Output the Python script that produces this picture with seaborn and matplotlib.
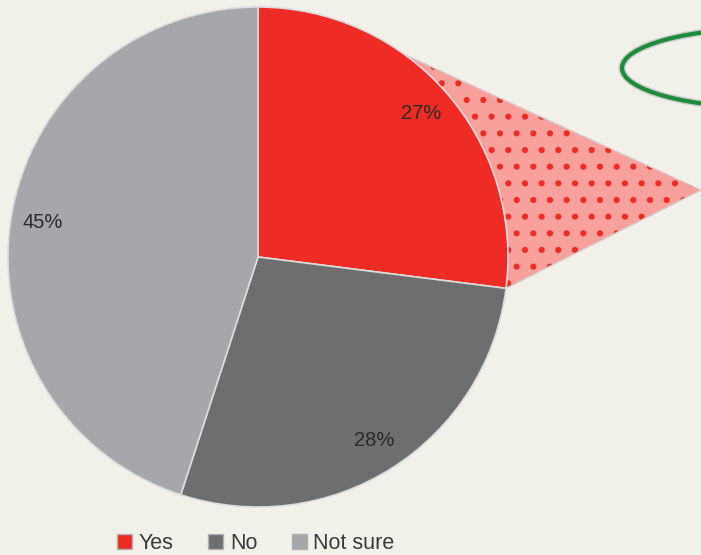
import matplotlib.pyplot as plt
import matplotlib.patches as mpatches
import matplotlib.patheffects as pe
import seaborn as sns
import numpy as np

sns.set_theme(style='white')
plt.rcParams['font.family'] = ['Liberation Sans', 'DejaVu Sans']
plt.rcParams['hatch.linewidth'] = 2.0

# data
labels = ['Yes', 'No', 'Not sure']
shares = [27, 28, 45]
colors = ['#ee2c25', '#6d6e70', '#a6a7ab']
bg = '#f2f1e9'

fig = plt.figure(figsize=(7.01, 5.55), dpi=100, facecolor=bg)
ax = fig.add_axes([0, 0, 1, 1])
ax.set_facecolor(bg)

cx, cy, r = 258, 298, 250
wedges, texts, autotexts = ax.pie(
    shares, colors=colors, startangle=90, counterclock=False,
    center=(cx, cy), radius=r, autopct='%d%%', pctdistance=0.87,
    wedgeprops=dict(edgecolor='#dcdcdc', linewidth=1.2),
    textprops=dict(fontsize=14.5, color='#2a2a2a'))
for w in wedges:
    w.set_zorder(3)
for t in autotexts:
    t.set_zorder(4)

# exploded callout from the "Yes" slice
a_low = np.deg2rad(wedges[0].theta1)
a_up = np.deg2rad(54)
apex = (701, 365)
tri = [(cx, cy), (cx + r * np.cos(a_up), cy + r * np.sin(a_up)), apex,
       (cx + r * np.cos(a_low), cy + r * np.sin(a_low))]
ax.add_patch(mpatches.Polygon(tri, closed=True, facecolor='#f7a09c',
                              edgecolor='#ee2c25', linewidth=0, hatch='.', zorder=1))
ax.add_patch(mpatches.Polygon(tri, closed=True, fill=False,
                              edgecolor='#d9c9c9', linewidth=1.0, zorder=2))

# green ellipse (cut off at the right edge)
ell = mpatches.Ellipse((770, 487), 296, 80, fill=False, edgecolor='#1d8c3a', linewidth=3,
                       zorder=2)
ell.set_path_effects([pe.Stroke(linewidth=5, foreground='#c9c9c9'), pe.Normal()])
ax.add_patch(ell)

handles = [mpatches.Patch(facecolor=c, edgecolor='#b0b0b0', label=l) for c, l in zip(colors, labels)]
leg = ax.legend(handles=handles, loc='lower center', bbox_to_anchor=(0.365, -0.033), ncol=3,
                frameon=False, fontsize=15.5, handlelength=0.7, handleheight=0.7,
                handletextpad=0.3, columnspacing=1.6, labelcolor='#3a3a3a')

ax.set_xlim(0, 701)
ax.set_ylim(0, 555)
ax.set_aspect('equal')
ax.axis('off')

fig.savefig('out.png', dpi=100, facecolor=bg)
